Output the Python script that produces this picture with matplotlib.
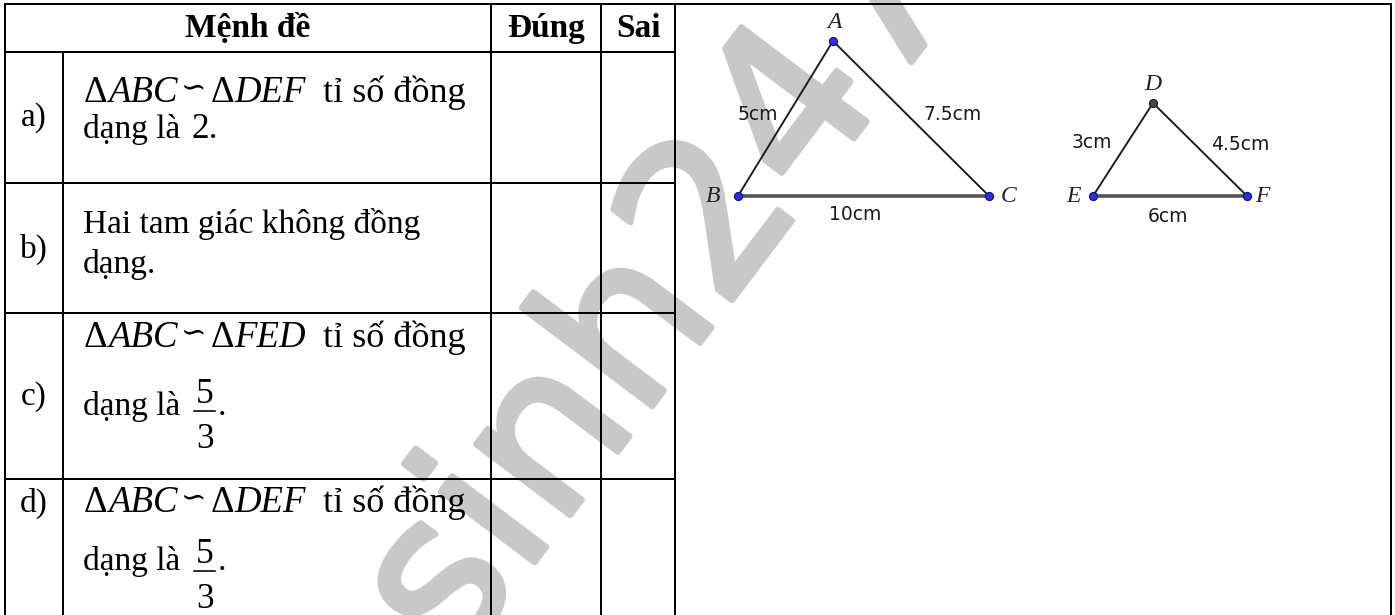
import matplotlib
matplotlib.use("Agg")
import matplotlib.pyplot as plt
import matplotlib.patheffects as pe

# ---------------- data ----------------
header_labels = ["Mệnh đề", "Đúng", "Sai"]
row_labels = ["a)", "b)", "c)", "d)"]
tri_left = ["ABC", None, "ABC", "ABC"]
tri_right = ["DEF", None, "FED", "DEF"]
ratio_num = ["2", None, "5", "5"]
ratio_den = [None, None, "3", "3"]
phrase_ratio = "tỉ số đồng"
phrase_dang = "dạng là"
row_b_lines = ["Hai tam giác không đồng", "dạng."]

big_names = ["A", "B", "C"]
big_sides = ["5cm", "7.5cm", "10cm"]      # AB, AC, BC
small_names = ["D", "E", "F"]
small_sides = ["3cm", "4.5cm", "6cm"]     # DE, DF, EF
watermark = "Tuyensinh247.com"

# ---------------- layout (pixels) ----------------
W, H, DPI = 1395, 615, 100
col_x = [5, 63, 491, 601, 675, 1391]
row_y = [4, 52, 183, 313, 479]
line1_base = [102, 233, 347, 512]
line2_base = [138, 273, 415, 570]
frac_bar = [None, None, 411, 571]
label_base = [126, 258, 405, 512]
header_base = 37

big_pts = [(833, 41), (738, 196), (989, 196)]
small_pts = [(1153, 103), (1093, 196), (1247, 196)]
big_name_pos = [(834, 22), (713, 197), (1009, 197)]
small_name_pos = [(1153, 85), (1073, 197), (1262, 197)]
big_side_pos = [(758, 114), (953, 114), (855, 215)]
small_side_pos = [(1092, 142), (1240, 145), (1168, 217)]

SERIF = ['Liberation Serif', 'DejaVu Serif', 'DejaVu Sans']
TXT = 24
MATH = 26.5
PX = 72.0 / DPI

fig = plt.figure(figsize=(W / DPI, H / DPI), dpi=DPI)
ax = fig.add_axes([0, 0, 1, 1])
ax.set_xlim(0, W)
ax.set_ylim(H, 0)
ax.axis('off')
renderer = fig.canvas.get_renderer()

# ---------------- watermark ----------------
ax.text(681, 368, watermark, fontsize=155, family='DejaVu Sans',
        color='#c8c8c8', rotation=53, rotation_mode='anchor',
        ha='center', va='baseline', zorder=0, clip_on=True,
        path_effects=[pe.withStroke(linewidth=6 * PX, foreground='#c8c8c8')])

# ---------------- table lines ----------------
LW = 2 * PX
lk = dict(color='black', lw=LW, solid_capstyle='projecting', zorder=2)
ax.plot([col_x[0], col_x[5]], [row_y[0], row_y[0]], **lk)
for y in row_y[1:]:
    ax.plot([col_x[0], col_x[4]], [y, y], **lk)
for x in [col_x[0], col_x[2], col_x[3], col_x[4], col_x[5]]:
    ax.plot([x, x], [row_y[0], H + 5], **lk)
ax.plot([col_x[1], col_x[1]], [row_y[1], H + 5], **lk)

# ---------------- header ----------------
hx = [(col_x[0] + col_x[2]) / 2, (col_x[2] + col_x[3]) / 2, (col_x[3] + col_x[4]) / 2]
for x, s in zip(hx, header_labels):
    ax.text(x, header_base, s, fontsize=TXT, family=SERIF, weight='bold',
            ha='center', va='baseline', zorder=3)


def put(x, y, s, size=TXT, style='normal', gap=0):
    t = ax.text(x, y, s, fontsize=size, family=SERIF, style=style,
                ha='left', va='baseline', zorder=3)
    return x + t.get_window_extent(renderer).width + gap


x0 = 83
for i in range(4):
    ax.text((col_x[0] + col_x[1]) / 2, label_base[i], row_labels[i], fontsize=TXT,
            family=SERIF, ha='center', va='baseline', zorder=3)
    if tri_left[i] is None:
        put(x0, line1_base[i], row_b_lines[0])
        put(x0, line2_base[i], row_b_lines[1])
        continue
    x = put(x0 + 1, line1_base[i], "Δ", size=MATH)
    x = put(x, line1_base[i], tri_left[i], size=MATH, style='italic', gap=4)
    x = put(x, line1_base[i] - 6, "∽", size=TXT - 2, gap=4)
    x = put(x, line1_base[i], "Δ", size=MATH)
    x = put(x, line1_base[i], tri_right[i], size=MATH, style='italic', gap=17)
    put(x, line1_base[i], phrase_ratio, size=26)
    if ratio_den[i] is None:
        x = put(x0, line2_base[i], phrase_dang, gap=11)
        put(x, line2_base[i], ratio_num[i] + ".", size=MATH - 1)
    else:
        x = put(x0, line2_base[i], phrase_dang, gap=4)
        bw = 21
        xc = x + 10 + bw / 2
        yb = frac_bar[i]
        ax.plot([xc - bw / 2, xc + bw / 2], [yb, yb], color='black', lw=1.6 * PX, zorder=3)
        ax.text(xc, yb - 8, ratio_num[i], fontsize=MATH - 1, family=SERIF,
                ha='center', va='baseline', zorder=3)
        ax.text(xc, yb + 37, ratio_den[i], fontsize=MATH - 1, family=SERIF,
                ha='center', va='baseline', zorder=3)
        put(xc + bw / 2 + 3, line2_base[i], ".")


# ---------------- triangles ----------------
def triangle(pts, names, name_pos, sides, side_pos, top_color):
    a, b, c = pts
    ax.plot([b[0], a[0], c[0]], [b[1], a[1], c[1]], color='#1a1a1a', lw=1.9 * PX,
            zorder=2, solid_joinstyle='round')
    ax.plot([b[0], c[0]], [b[1], c[1]], color='#555555', lw=3.6 * PX, zorder=2)
    for k, (px, py) in enumerate(pts):
        fc = top_color if k == 0 else '#2b2bff'
        ec = '#222222' if k == 0 and top_color != '#2b2bff' else '#10107a'
        ax.plot(px, py, 'o', ms=8 * PX, mfc=fc, mec=ec, mew=1.2 * PX, zorder=4)
    for (nx, ny), n in zip(name_pos, names):
        ax.text(nx, ny, n, fontsize=17, family=SERIF, style='italic',
                ha='center', va='center', color='#222222', zorder=4)
    for (sx, sy), s in zip(side_pos, sides):
        ax.text(sx, sy, s, fontsize=13.5, family='DejaVu Sans', color='#1a1a1a',
                ha='center', va='center', zorder=4)


triangle(big_pts, big_names, big_name_pos, big_sides, big_side_pos, '#2b2bff')
triangle(small_pts, small_names, small_name_pos, small_sides, small_side_pos, '#444444')

fig.savefig('out.png', dpi=DPI)
